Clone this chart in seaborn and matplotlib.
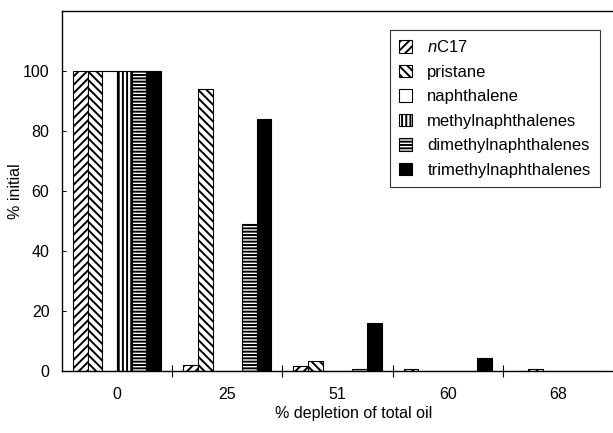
import matplotlib
matplotlib.use("Agg")
import matplotlib.pyplot as plt
from matplotlib.patches import Patch
from matplotlib.ticker import FixedLocator
import seaborn as sns
import pandas as pd

# ---- data ----
depletion = ["0", "25", "51", "60", "68"]
compounds = ["nC17", "pristane", "naphthalene", "methylnaphthalenes",
             "dimethylnaphthalenes", "trimethylnaphthalenes"]
labels = [r"$\it{n}$C17", "pristane", "naphthalene", "methylnaphthalenes",
          "dimethylnaphthalenes", "trimethylnaphthalenes"]
nC17 = [100, 2.1, 1.8, 0.7, 0.2]
pristane = [100, 94, 3.4, 0.0, 0.7]
naphthalene = [100, 0.0, 0.2, 0.0, 0.0]
methylnaphthalenes = [100, 0.2, 0.2, 0.0, 0.0]
dimethylnaphthalenes = [100, 49, 0.8, 0.1, 0.0]
trimethylnaphthalenes = [100, 84, 16, 4.3, 0.0]
yticks = [0, 20, 40, 60, 80, 100]

series = [nC17, pristane, naphthalene, methylnaphthalenes,
          dimethylnaphthalenes, trimethylnaphthalenes]
rows = []
for name, vals in zip(compounds, series):
    for d, v in zip(depletion, vals):
        rows.append({"depletion": d, "compound": name, "value": v})
df = pd.DataFrame(rows)

sns.set_theme(style="white")
plt.rcParams["font.family"] = ["Liberation Sans", "DejaVu Sans"]
plt.rcParams["mathtext.fontset"] = "custom"
plt.rcParams["mathtext.it"] = "Liberation Sans:italic"
plt.rcParams["mathtext.rm"] = "Liberation Sans"
plt.rcParams["hatch.linewidth"] = 1.4
for k in ["text.color", "axes.labelcolor", "xtick.color", "ytick.color",
          "xtick.labelcolor", "ytick.labelcolor"]:
    plt.rcParams[k] = "black"

facecolors = ["white", "white", "white", "white", "white", "black"]
hatches = ["////", "\\\\\\\\", "", "||||", "-----", ""]

fig = plt.figure(figsize=(6.13, 4.33), dpi=100)
ax = fig.add_axes([0.101, 0.1425, 0.899, 0.832])

sns.barplot(data=df, x="depletion", y="value", hue="compound",
            order=depletion, hue_order=compounds,
            palette=dict(zip(compounds, facecolors)),
            errorbar=None, saturation=1, width=0.8, gap=0,
            edgecolor="black", linewidth=0.8, ax=ax, legend=False)

for cont, h, fc in zip(ax.containers, hatches, facecolors):
    for p in cont.patches:
        p.set_hatch(h)
        p.set_facecolor(fc)
        p.set_edgecolor("black")

ax.set_xlim(-0.5, 4.5)
ax.set_ylim(0, 120)
ax.set_yticks(yticks)
ax.set_xticks(range(len(depletion)))
ax.set_xticklabels(depletion)
ax.xaxis.set_minor_locator(FixedLocator([0.5, 1.5, 2.5, 3.5]))
ax.tick_params(axis="x", which="major", length=0, labelsize=11.5, pad=11,
               labelcolor="black")
ax.tick_params(axis="x", which="minor", direction="inout", length=8,
               width=0.8, color="black", bottom=True)
ax.tick_params(axis="y", direction="in", length=3, width=0.8,
               color="black", left=True, labelsize=11.5, pad=9,
               labelcolor="black")

for s in ["left", "bottom", "top"]:
    ax.spines[s].set_visible(True)
    ax.spines[s].set_color("black")
    ax.spines[s].set_linewidth(1.0)
ax.spines["right"].set_visible(False)

ax.set_xlabel("% depletion of total oil", fontsize=11.5, color="black")
ax.set_ylabel("% initial", fontsize=11.5, color="black")
ax.xaxis.set_label_coords(0.53, -0.095)
ax.yaxis.set_label_coords(-0.07, 0.5)

handles = [Patch(facecolor=fc, edgecolor="black", hatch=h, linewidth=0.8)
           for fc, h in zip(facecolors, hatches)]
leg = ax.legend(handles, labels, loc="upper right",
                bbox_to_anchor=(0.976, 0.947), fontsize=12,
                frameon=True, fancybox=False, shadow=False,
                handlelength=0.8, handleheight=0.8, handletextpad=0.9,
                labelspacing=0.56, borderpad=0.55, borderaxespad=0)
leg.get_frame().set_edgecolor("black")
leg.get_frame().set_linewidth(0.8)
for t in leg.get_texts():
    t.set_color("black")

fig.savefig("out.png", dpi=100)
